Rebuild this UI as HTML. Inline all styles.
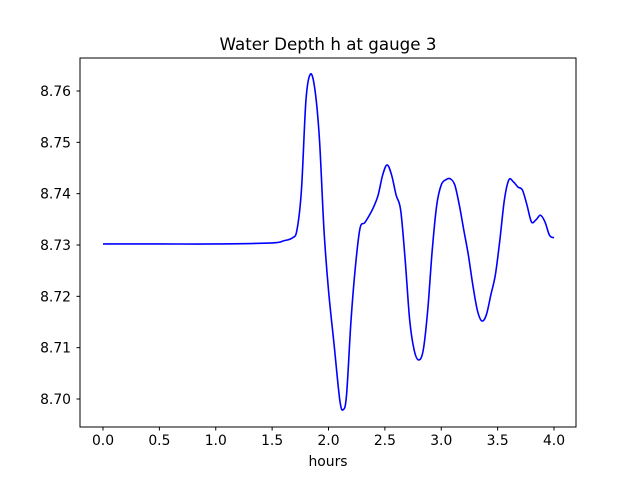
<!DOCTYPE html>
<html><head><meta charset="utf-8">
<style>
body{margin:0;background:#fff;}
svg{display:block;font-family:"DejaVu Sans","Liberation Sans",sans-serif;}
</style></head>
<body>
<svg id="chart" width="640" height="480" viewBox="0 0 640 480">
<rect x="0" y="0" width="640" height="480" fill="#fff"/>
<text x="328" y="50" font-size="16.7" text-anchor="middle">Water Depth h at gauge 3</text>
<g id="xticks"></g><g id="yticks"></g>
<path id="series" fill="none" stroke="#0000ff" stroke-width="1.6" stroke-linejoin="round"/>
<rect x="80" y="58" width="496" height="369" fill="none" stroke="#000" stroke-width="1"/>
<text x="328" y="466" font-size="13.9" text-anchor="middle">hours</text>
</svg>
<script>
const hours = [0,0.5,1.0,1.5,1.6,1.68,1.72,1.76,1.8,1.84,1.88,1.92,1.96,2.0,2.05,2.1,2.13,2.16,2.2,2.24,2.28,2.32,2.36,2.4,2.44,2.48,2.52,2.56,2.6,2.64,2.68,2.72,2.76,2.8,2.84,2.88,2.92,2.96,3.0,3.04,3.08,3.12,3.16,3.2,3.24,3.28,3.32,3.36,3.4,3.44,3.48,3.52,3.56,3.6,3.64,3.68,3.72,3.76,3.8,3.84,3.88,3.92,3.96,4.0];
const depth = [8.7302,8.7302,8.7302,8.7304,8.7308,8.7314,8.7329,8.7407,8.7582,8.7633,8.7602,8.7505,8.7329,8.7212,8.7105,8.6998,8.6979,8.7008,8.7154,8.7261,8.7333,8.7343,8.7357,8.7374,8.7397,8.7436,8.7456,8.7436,8.7397,8.7368,8.7271,8.7154,8.7095,8.7076,8.7095,8.7173,8.7290,8.7378,8.7417,8.7427,8.7429,8.7417,8.7378,8.7329,8.7281,8.7222,8.7173,8.7152,8.7164,8.7203,8.7242,8.7310,8.7388,8.7427,8.7423,8.7413,8.7407,8.7378,8.7345,8.7349,8.7358,8.7345,8.7319,8.7314];
const xTickValues = [0,0.5,1.0,1.5,2.0,2.5,3.0,3.5,4.0];
const xTickLabels = ["0.0","0.5","1.0","1.5","2.0","2.5","3.0","3.5","4.0"];
const yTickValues = [8.70,8.71,8.72,8.73,8.74,8.75,8.76];
const yTickLabels = ["8.70","8.71","8.72","8.73","8.74","8.75","8.76"];

const X = v => 103 + (v-0)*(554-103)/4;
const Y = v => 399 - (v-8.70)*(399-91)/0.06;
const NS="http://www.w3.org/2000/svg";

const pts = hours.map((h,i)=>[X(h),Y(depth[i])]);
let d = "M"+pts[0][0]+","+pts[0][1];
for(let i=0;i<pts.length-1;i++){
  const p0=pts[Math.max(0,i-1)],p1=pts[i],p2=pts[i+1],p3=pts[Math.min(pts.length-1,i+2)];
  const c1=[p1[0]+(p2[0]-p0[0])/6,p1[1]+(p2[1]-p0[1])/6];
  const c2=[p2[0]-(p3[0]-p1[0])/6,p2[1]-(p3[1]-p1[1])/6];
  d+=` C${c1[0]},${c1[1]} ${c2[0]},${c2[1]} ${p2[0]},${p2[1]}`;
}
document.getElementById('series').setAttribute('d',d);

const xg=document.getElementById('xticks');
xTickValues.forEach((v,i)=>{
  const l=document.createElementNS(NS,'line');
  l.setAttribute('x1',X(v));l.setAttribute('x2',X(v));l.setAttribute('y1',427);l.setAttribute('y2',430.5);l.setAttribute('stroke','#000');
  
  
  xg.appendChild(l);
  const t=document.createElementNS(NS,'text');
  t.setAttribute('x',X(v));t.setAttribute('y',445);t.setAttribute('font-size','13.9');t.setAttribute('text-anchor','middle');
  t.textContent=xTickLabels[i];
  
  
  xg.appendChild(t);
});
const yg=document.getElementById('yticks');
yTickValues.forEach((v,i)=>{
  const l=document.createElementNS(NS,'line');
  l.setAttribute('x1',76.5);l.setAttribute('x2',80);l.setAttribute('y1',Y(v));l.setAttribute('y2',Y(v));l.setAttribute('stroke','#000');
  
  
  yg.appendChild(l);
  const t=document.createElementNS(NS,'text');
  t.setAttribute('x',71);t.setAttribute('y',Y(v)+5);t.setAttribute('font-size','13.9');t.setAttribute('text-anchor','end');
  t.textContent=yTickLabels[i];
  
  
  yg.appendChild(t);
});
</script>
</body></html>
